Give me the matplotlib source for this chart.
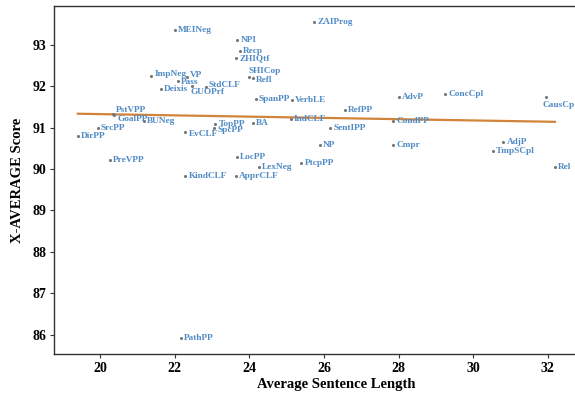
import numpy as np
import matplotlib
matplotlib.use("Agg")
import matplotlib.pyplot as plt

# category names and values
labels = [
    "MEINeg", "NPI", "Recp", "ZHIQtf", "ZAIProg", "ImpNeg", "VP", "Pass",
    "Deixis", "GUOPrf", "StdCLF", "SHICop", "Refl", "SpanPP", "VerbLE",
    "AdvP", "ConcCpl", "CausCp", "PstVPP", "GoalPP", "BUNeg", "SrcPP",
    "DirPP", "EvCLF", "TopPP", "SpcPP", "BA", "IndCLF", "RefPP", "CondPP",
    "SentIPP", "PreVPP", "LocPP", "LexNeg", "PtcpPP", "NP", "Cmpr", "AdjP",
    "TmpSCpl", "KindCLF", "ApprCLF", "Rel", "PathPP",
]
avg_len = [
    22.01, 23.68, 23.76, 23.65, 25.74, 21.38, 22.34, 22.10,
    21.63, 22.47, 22.83, 23.99, 24.11, 24.17, 25.15,
    28.01, 29.25, 31.94, 20.36, 20.37, 21.17, 19.94,
    19.41, 22.29, 23.09, 23.06, 24.11, 25.12, 26.57, 27.86,
    26.17, 20.26, 23.67, 24.26, 25.40, 25.90, 27.85, 30.81,
    30.52, 22.29, 23.64, 32.19, 22.16,
]
x_avg = [
    93.36, 93.12, 92.86, 92.68, 93.56, 92.25, 92.23, 92.13,
    91.94, 92.01, 91.98, 92.22, 92.19, 91.70, 91.66,
    91.74, 91.81, 91.74, 91.33, 91.31, 91.15, 91.00,
    90.80, 90.90, 91.10, 90.99, 91.11, 91.21, 91.42, 91.16,
    90.99, 90.21, 90.29, 90.05, 90.14, 90.57, 90.58, 90.65,
    90.43, 89.84, 89.83, 90.06, 85.92,
]

# label nudges (points) for crowded spots
nudge = {
    "PstVPP": (2.2, 3.2), "GoalPP": (2.4, -2.8), "GUOPrf": (-1.5, -4.3),
    "CausCp": (-2.0, -5.8), "SHICop": (0.0, 4.2), "Refl": (2.2, -0.8),
    "StdCLF": (2.2, 1.8), "ImpNeg": (2.2, 1.4), "VP": (2.2, 1.2),
    "Pass": (2.2, -0.8), "SpcPP": (2.2, -1.4), "EvCLF": (2.2, -1.4),
}

plt.rcParams["font.family"] = ["Liberation Serif", "DejaVu Serif"]
plt.rcParams["font.weight"] = "bold"

fig = plt.figure(figsize=(5.75, 3.94), dpi=100)
# the right part of the axes runs past the edge of the figure, as in the source
ax = fig.add_axes([0.0939, 0.1015, 0.981, 0.8833])

x = np.array(avg_len)
y = np.array(x_avg)
ax.scatter(x, y, s=5, color="#777777", zorder=3, linewidths=0)

coef = np.polyfit(x, y, 1)
xs = np.linspace(x.min(), x.max(), 50)
ax.plot(xs, np.polyval(coef, xs), color="#d2843a", lw=1.6, zorder=2)

for name, xi, yi in zip(labels, avg_len, x_avg):
    dx, dy = nudge.get(name, (2.2, 0.0))
    ax.annotate(name, (xi, yi), xytext=(dx, dy), textcoords="offset points",
                ha="left", va="center", fontsize=6.7, fontweight="bold",
                color="#4f8ac4")

ax.set_xlim(18.77, 33.88)
ax.set_ylim(85.53, 93.94)
ax.set_xticks([20, 22, 24, 26, 28, 30, 32])
ax.set_yticks([86, 87, 88, 89, 90, 91, 92, 93])
ax.spines["right"].set_visible(False)
for s in ["left", "bottom", "top"]:
    ax.spines[s].set_color("#333333")
    ax.spines[s].set_linewidth(1.0)
ax.tick_params(length=3, width=0.8, labelsize=10, color="#333333", pad=2.5)
for lab in ax.get_xticklabels() + ax.get_yticklabels():
    lab.set_fontweight("bold")

ax.set_xlabel("Average Sentence Length", fontsize=10.5, fontweight="bold", labelpad=2.5)
ax.set_ylabel("X-AVERAGE Score", fontsize=10.5, fontweight="bold", labelpad=6)

fig.savefig("out.png", dpi=100)
